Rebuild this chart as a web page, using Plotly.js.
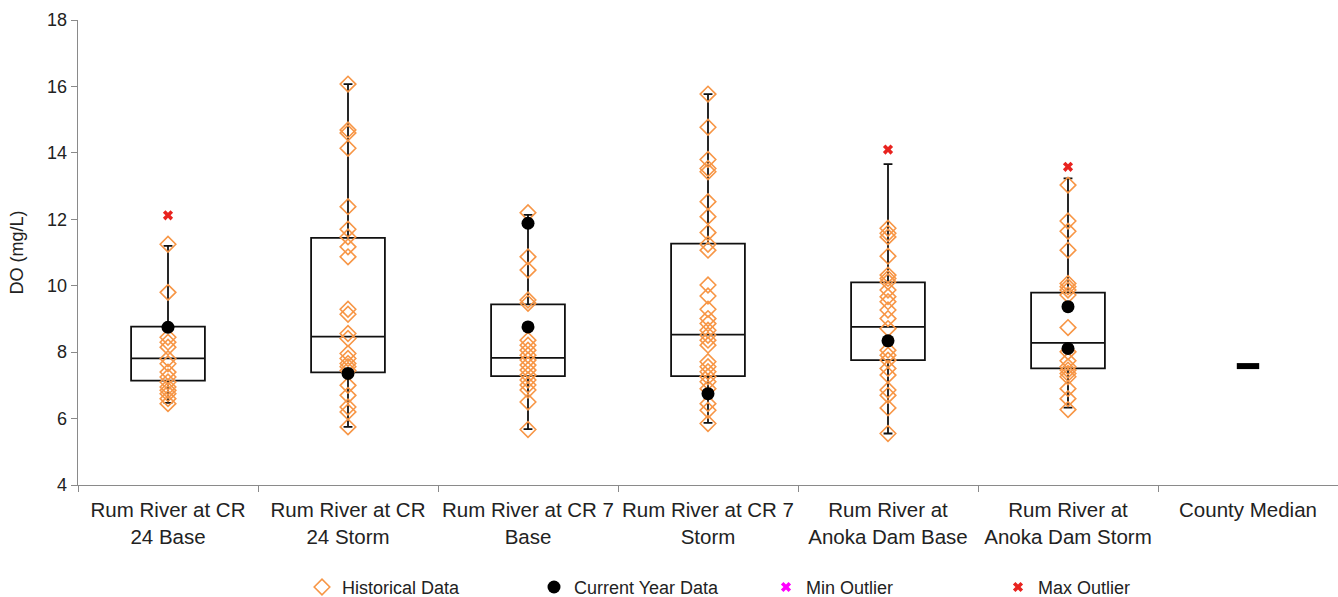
<!DOCTYPE html>
<html>
<head>
<meta charset="utf-8">
<script src="https://cdn.plot.ly/plotly-3.0.1.min.js"></script>
<style>html,body{margin:0;padding:0;background:#fff;}#chart{width:1338px;height:597px;}</style>
</head>
<body>
<div id="chart"></div>
<script>
const categories = [
  "Rum River at CR<br>24 Base",
  "Rum River at CR<br>24 Storm",
  "Rum River at CR 7<br>Base",
  "Rum River at CR 7<br>Storm",
  "Rum River at<br>Anoka Dam Base",
  "Rum River at<br>Anoka Dam Storm",
  "County Median"
];

// Box statistics per site (first six categories)
const q1Values     = [7.14, 7.39, 7.28, 7.28, 7.76, 7.51];
const medianValues = [7.81, 8.47, 7.83, 8.53, 8.76, 8.28];
const q3Values     = [8.77, 11.44, 9.44, 11.27, 10.10, 9.79];
const lowerWhisker = [6.47, 5.75, 5.68, 5.87, 5.55, 6.33];
const upperWhisker = [11.2, 16.07, 12.13, 15.77, 13.66, 13.23];

// Historical data per site
const hist1 = [11.25, 9.8, 8.45, 8.3, 8.15, 7.8, 7.65, 7.4, 7.25, 7.1, 6.95, 6.85, 6.75, 6.6, 6.45];
const hist2 = [16.07, 14.69, 14.6, 14.14, 12.38, 11.7, 11.47, 11.17, 10.87, 9.29, 9.14, 8.56, 8.41, 7.96, 7.81, 7.66, 7.56, 7.45, 7.0, 6.7, 6.35, 6.2, 5.75];
const hist3 = [12.2, 10.87, 10.47, 9.57, 9.47, 8.36, 8.21, 8.06, 7.91, 7.76, 7.61, 7.46, 7.31, 7.16, 7.01, 6.86, 6.5, 5.67];
const hist4 = [15.77, 14.77, 13.8, 13.53, 13.43, 12.53, 12.08, 11.6, 11.25, 11.07, 10.02, 9.69, 9.29, 9.01, 8.86, 8.66, 8.51, 8.36, 8.21, 7.71, 7.56, 7.41, 7.26, 7.11, 6.9, 6.45, 6.25, 5.85];
const hist5 = [11.73, 11.58, 11.47, 10.89, 10.32, 10.22, 10.12, 9.87, 9.67, 9.52, 9.27, 9.01, 8.71, 8.06, 7.91, 7.76, 7.51, 7.31, 6.86, 6.7, 6.32, 5.55];
const hist6 = [13.03, 11.95, 11.64, 11.07, 10.07, 9.97, 9.87, 9.72, 8.74, 8.01, 7.74, 7.56, 7.46, 7.36, 7.26, 6.9, 6.6, 6.27];

// Current year data per site
const cur1 = [8.75];
const cur2 = [7.36];
const cur3 = [11.88, 8.76];
const cur4 = [6.75];
const cur5 = [8.34];
const cur6 = [9.37, 8.11];

// Outliers per site
const maxOut1 = [12.12];
const maxOut2 = [];
const maxOut3 = [];
const maxOut4 = [];
const maxOut5 = [14.1];
const maxOut6 = [13.58];
const minOutliers = [[], [], [], [], [], []];

const countyMedian = [7.58];

function flatten(groups) {
  const xs = [], ys = [];
  groups.forEach((g, i) => g.forEach(v => { xs.push(categories[i]); ys.push(v); }));
  return {x: xs, y: ys};
}

const histAll = flatten([hist1, hist2, hist3, hist4, hist5, hist6]);
const curAll = flatten([cur1, cur2, cur3, cur4, cur5, cur6]);
const maxAll = flatten([maxOut1, maxOut2, maxOut3, maxOut4, maxOut5, maxOut6]);
const minAll = flatten(minOutliers);

const orange = '#F79646';

const traces = [
  {
    type: 'box',
    x: categories.slice(0, 6),
    q1: q1Values, median: medianValues, q3: q3Values,
    lowerfence: lowerWhisker, upperfence: upperWhisker,
    fillcolor: 'rgba(255,255,255,0)',
    line: {color: '#111', width: 1.8},
    width: 0.41,
    whiskerwidth: 0.12,
    boxpoints: false,
    showlegend: false,
    hoverinfo: 'skip'
  },
  {
    type: 'scatter', mode: 'markers', name: 'Historical Data',
    x: histAll.x, y: histAll.y,
    marker: {symbol: 'diamond-open', size: 12, color: orange, line: {width: 1.6, color: orange}}
  },
  {
    type: 'scatter', mode: 'markers', name: 'Current Year Data',
    x: curAll.x, y: curAll.y,
    marker: {symbol: 'circle', size: 13, color: '#000'}
  },
  {
    type: 'scatter', mode: 'markers', name: 'Min Outlier',
    x: minAll.x.length ? minAll.x : [categories[0]],
    y: minAll.y.length ? minAll.y : [null],
    marker: {symbol: 'x', size: 9, color: '#FF00FF'}
  },
  {
    type: 'scatter', mode: 'markers', name: 'Max Outlier',
    x: maxAll.x, y: maxAll.y,
    marker: {symbol: 'x', size: 9, color: '#E8231F'}
  },
  {
    type: 'scatter', mode: 'markers', showlegend: false,
    x: [categories[6]], y: countyMedian,
    marker: {symbol: 'line-ew', size: 16, color: '#000', line: {width: 6, color: '#000'}}
  }
];

const layout = {
  width: 1338, height: 597,
  margin: {l: 78, r: 0, t: 20, b: 112, autoexpand: false},
  paper_bgcolor: '#fff', plot_bgcolor: '#fff',
  font: {family: 'Liberation Sans, Arial, sans-serif', color: '#222', size: 18},
  showlegend: true,
  legend: {
    orientation: 'h', x: (302 - 78) / 1260, xanchor: 'left', y: -0.22, yanchor: 'middle',
    entrywidth: 187, entrywidthmode: 'pixels',
    font: {size: 18, color: '#222'}, itemwidth: 30, bgcolor: 'rgba(0,0,0,0)'
  },
  xaxis: {
    type: 'category',
    categoryorder: 'array', categoryarray: categories,
    range: [-0.5, 6.5],
    showline: true, linecolor: '#8a8a8a', linewidth: 1.3,
    ticks: 'outside', tickson: 'boundaries', ticklen: 6, tickcolor: '#8a8a8a',
    ticklabelstandoff: 6, tickangle: 0, automargin: false,
    showgrid: false, zeroline: false,
    tickfont: {size: 20.5, color: '#222'}
  },
  yaxis: {
    range: [4, 18], dtick: 2,
    showline: true, linecolor: '#8a8a8a', linewidth: 1.3,
    ticks: 'outside', ticklen: 6, tickcolor: '#8a8a8a',
    showgrid: false, zeroline: false,
    tickfont: {size: 18, color: '#222'},
    title: {text: 'DO (mg/L)', font: {size: 18, color: '#222'}, standoff: 18}
  }
};

Plotly.newPlot('chart', traces, layout, {displayModeBar: false, staticPlot: true});
</script>
</body>
</html>
